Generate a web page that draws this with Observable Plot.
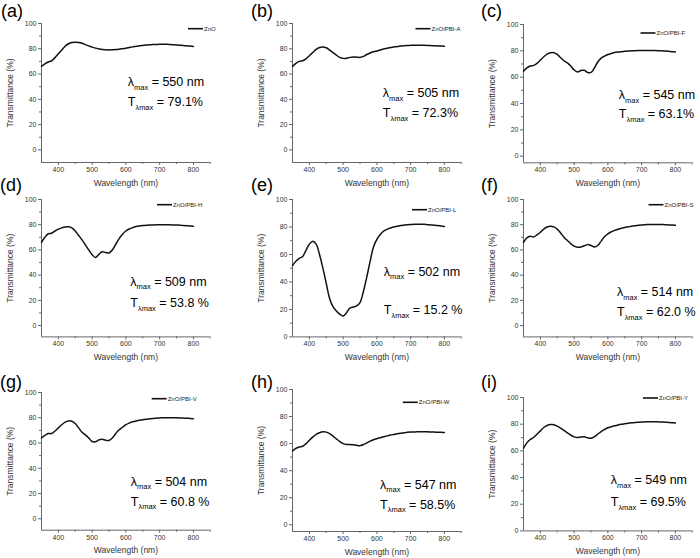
<!DOCTYPE html>
<html><head><meta charset="utf-8">
<script src="https://cdn.jsdelivr.net/npm/d3@7"></script>
<script src="https://cdn.jsdelivr.net/npm/@observablehq/plot@0.6"></script>
<style>
body{margin:0;background:#fff}
#root{position:relative;width:700px;height:558px;overflow:hidden;background:#fff}
#root svg{position:absolute;overflow:visible}
text{white-space:pre}
</style>
</head><body><div id="root"></div>
<script>
// ---- data ----
const wavelength = [350,360,370,380,390,400,410,420,430,440,450,460,470,480,490,500,510,520,530,540,550,560,570,580,590,600,610,620,630,640,650,660,670,680,690,700,710,720,730,740,750,760,770,780,790,800];
const tZnO = [66,68,69.5,70.5,73,76,79,82,84,85,85.2,85,84.3,83.3,82.3,81.3,80.5,79.9,79.4,79.2,79.1,79.2,79.4,79.7,80.1,80.5,81,81.5,81.9,82.3,82.6,82.9,83.1,83.3,83.4,83.5,83.5,83.5,83.4,83.2,83,82.8,82.6,82.3,82.1,81.8];
const tA = [66,68.5,70,70.5,72,74.5,77,79.5,81,81.4,80.8,79,77,75,73.2,72.4,72.5,73.2,73.5,73.3,73.2,74,75.5,76.7,77.6,78.3,79.1,79.8,80.4,81,81.4,81.8,82.1,82.4,82.6,82.7,82.8,82.8,82.8,82.7,82.6,82.5,82.4,82.2,82.1,81.9];
const tF = [64.5,67,68.5,69,70.5,73,75.5,77.5,78.5,78.6,77.3,74.8,72.5,70.8,68.5,65.5,64,65,65.2,63.6,63.6,67,71.5,74.5,76,77.2,78,78.7,79.1,79.4,79.6,79.8,80,80.1,80.2,80.3,80.3,80.3,80.3,80.2,80.1,80,79.8,79.6,79.4,79.2];
const tH = [66,70,72.8,73.2,75,76.5,77.5,78.2,78.3,77.5,75,71.5,68,64,60,56.2,54,56.5,58.5,58,57.6,60,64.5,69,72.5,75,76.6,77.7,78.5,79,79.3,79.5,79.7,79.8,79.9,79.9,79.9,79.9,79.9,79.8,79.7,79.6,79.4,79.2,79,78.8];
const tL = [52,55,57.2,58.5,63,67.5,69.6,67.5,60,50,39,28,22,18.8,16.5,15.2,17.5,21,21.8,22.5,25,33,43.5,55,65.5,71,74.5,77,78.3,79.3,80,80.5,81,81.3,81.6,81.8,81.9,82,82,81.9,81.7,81.5,81.3,81,80.7,80.4];
const tS = [66,69.5,70.8,70.3,72,74,76.5,78.2,78.8,78.3,76.5,73.5,70,67.5,65,63,62.1,62.3,63.3,64.2,63.5,62.3,63.5,67,70.5,72.8,74.3,75.5,76.4,77.2,77.8,78.3,78.8,79.2,79.5,79.8,80,80.1,80.2,80.2,80.2,80.1,80,79.8,79.7,79.5];
const tV = [64,66,67.5,67.5,69.5,72,74.5,76.5,77.5,77.2,75.5,72,68.5,66.5,64,61.2,61,62.5,63,62.2,62,64,67.5,70.5,72.5,74.5,75.8,76.8,77.5,78,78.5,78.9,79.2,79.5,79.7,79.9,80,80.1,80.1,80.1,80,79.9,79.8,79.6,79.5,79.3];
const tW = [54.5,56.5,57.5,58,60,62.5,64.8,66.8,68,68.7,68.5,67.3,65.5,63.5,61.5,60,59.4,59.3,59.1,58.7,58.5,59.3,60.5,61.8,62.8,63.6,64.3,65,65.7,66.3,66.8,67.3,67.7,68,68.3,68.5,68.6,68.7,68.7,68.7,68.7,68.6,68.5,68.4,68.3,68.2];
const tY = [62,66,68.5,70,72.5,75,77.5,79,79.7,79.6,78.5,77,75.3,73.5,71.8,70.5,70,70.4,70.5,69.8,69.5,70.5,72.5,74.5,76,77.3,78.1,78.8,79.4,79.9,80.3,80.7,81,81.2,81.4,81.6,81.7,81.8,81.8,81.8,81.7,81.6,81.5,81.3,81.1,80.9];

const names = ["ZnO","ZnO/PBI-A","ZnO/PBI-F","ZnO/PBI-H","ZnO/PBI-L","ZnO/PBI-S","ZnO/PBI-V","ZnO/PBI-W","ZnO/PBI-Y"];
const letters = ["(a)","(b)","(c)","(d)","(e)","(f)","(g)","(h)","(i)"];
const lambdaMax = [550,505,545,509,502,514,504,547,549];
const tLambdaMax = ["79.1%","72.3%","63.1%","53.8 %","15.2 %","62.0 %","60.8 %","58.5%","69.5%"];
const yTicks = [0,20,40,60,80,100];
const yMinor = [10,30,50,70,90];
const xTicks = [400,500,600,700,800];
const xMinor = [450,550,650,750,850];
const series = [tZnO,tA,tF,tH,tL,tS,tV,tW,tY];

// ---- layout (pixels / positions) ----
const layout = [
  {left:41.3, top:23.3, bottom:162.3, ymin:-10, annX:607, annY1:50, annY2:34, legX:147, legY:5.7, lx:1, ly:16.5},
  {left:291.5, top:23.3, bottom:162.3, ymin:-10, annX:619, annY1:41.2, annY2:25.3, legX:123.5, legY:5.7, lx:251, ly:16.5},
  {left:522.8, top:24, bottom:162.3, ymin:-5, annX:634, annY1:42.9, annY2:28.4, legX:117.5, legY:9, lx:481, ly:16.5},
  {left:41, top:199.3, bottom:336.7, ymin:-9, annX:614.6, annY1:31, annY2:14.3, legX:116, legY:5.7, lx:0, ly:191},
  {left:291.5, top:199.3, bottom:336.7, ymin:0, annX:622, annY1:44.2, annY2:16.2, legX:120, legY:10.7, lx:251, ly:191},
  {left:522.8, top:199.3, bottom:336.7, ymin:-9, annX:628.5, annY1:23, annY2:7, legX:125.5, legY:5.7, lx:481, ly:191},
  {left:41, top:392.3, bottom:530, ymin:-9, annX:616, annY1:25.6, annY2:9.8, legX:110.7, legY:6.7, lx:0, ly:388},
  {left:291.5, top:389, bottom:531, ymin:-5, annX:611, annY1:26.3, annY2:11.5, legX:110.8, legY:13.3, lx:251, ly:388},
  {left:522.8, top:397.3, bottom:530.7, ymin:0, annX:610, annY1:34.6, annY2:18, legX:120, legY:1, lx:481, ly:388}
];

const root = document.getElementById("root");
const ML = 42, MR = 25.25, MT = 12, MB = 32, W = 236;
const FONT = "'Liberation Sans', Arial, sans-serif";
const AX = "#666";

series.forEach((s, i) => {
  const L = layout[i];
  const h = L.bottom - L.top;
  const chart = Plot.plot({
    width: W, height: MT + h + MB,
    marginLeft: ML, marginRight: MR, marginTop: MT, marginBottom: MB,
    x: {domain: [350, 850]},
    y: {domain: [L.ymin, 100]},
    style: {fontFamily: FONT, fontSize: "7px", background: "transparent", overflow: "visible"},
    marks: [
      Plot.axisY({ticks: yTicks, tickSize: 3, tickPadding: 2, label: null, stroke: AX, fill: "#333"}),
      Plot.axisY({ticks: yMinor, tickSize: 2, tickFormat: () => "", label: null, stroke: AX}),
      Plot.axisX({ticks: xTicks, tickSize: 3, tickPadding: 1.5, label: null, stroke: AX, fill: "#333"}),
      Plot.axisX({ticks: xMinor, tickSize: 2, tickFormat: () => "", label: null, stroke: AX}),
      Plot.ruleX([350], {stroke: AX}),
      Plot.ruleY([L.ymin], {stroke: AX}),
      Plot.line(s, {x: wavelength, y: s, curve: "catmull-rom", stroke: "#111", strokeWidth: 1.5}),
      Plot.text(["Transmittance (%)"], {frameAnchor: "left", rotate: -90, dx: -31, textAnchor: "middle", lineAnchor: "middle", fontSize: 8.5, fill: "#333"}),
      Plot.text(["Wavelength (nm)"], {frameAnchor: "bottom", dy: 20.5, textAnchor: "middle", lineAnchor: "middle", fontSize: 8.5, fill: "#333"})
    ]
  });
  chart.style.left = (L.left - ML) + "px";
  chart.style.top = (L.top - MT) + "px";
  root.appendChild(chart);

  const sx = chart.scale("x"), sy = chart.scale("y");
  const svg = d3.select(chart);
  const g = svg.append("g").attr("font-family", FONT).attr("fill", "#000").attr("text-anchor", "start");
  const t1 = g.append("text").attr("x", sx.apply(L.annX)).attr("y", sy.apply(L.annY1)).attr("font-size", 12.5);
  t1.append("tspan").text("λ");
  t1.append("tspan").attr("font-size", 7.5).attr("dy", 3.5).text("max");
  t1.append("tspan").attr("dy", -3.5).text(" = " + lambdaMax[i] + " nm");
  const t2 = g.append("text").attr("x", sx.apply(L.annX)).attr("y", sy.apply(L.annY2)).attr("font-size", 12.5);
  t2.append("tspan").text("T");
  t2.append("tspan").attr("font-size", 7.5).attr("dy", 3.5).text("λmax");
  t2.append("tspan").attr("dy", -3.5).text(" = " + tLambdaMax[i]);

  const lx = ML + L.legX, ly = MT + L.legY;
  g.append("line").attr("x1", lx).attr("x2", lx + 15).attr("y1", ly).attr("y2", ly)
    .attr("stroke", "#111").attr("stroke-width", 1.6);
  g.append("text").attr("x", lx + 16).attr("y", ly).attr("dy", "0.35em")
    .attr("font-size", 6).attr("fill", "#222").text(names[i]);
});

// panel letters
const over = d3.select(root).append("svg").attr("width", 700).attr("height", 558)
  .style("left", "0px").style("top", "0px");
layout.forEach((L, i) => {
  over.append("text").attr("x", L.lx).attr("y", L.ly).attr("text-anchor", "start")
    .attr("font-family", "'Liberation Sans', Arial, sans-serif").attr("font-size", 18)
    .attr("fill", "#000").text(letters[i]);
});
</script>
</body></html>
